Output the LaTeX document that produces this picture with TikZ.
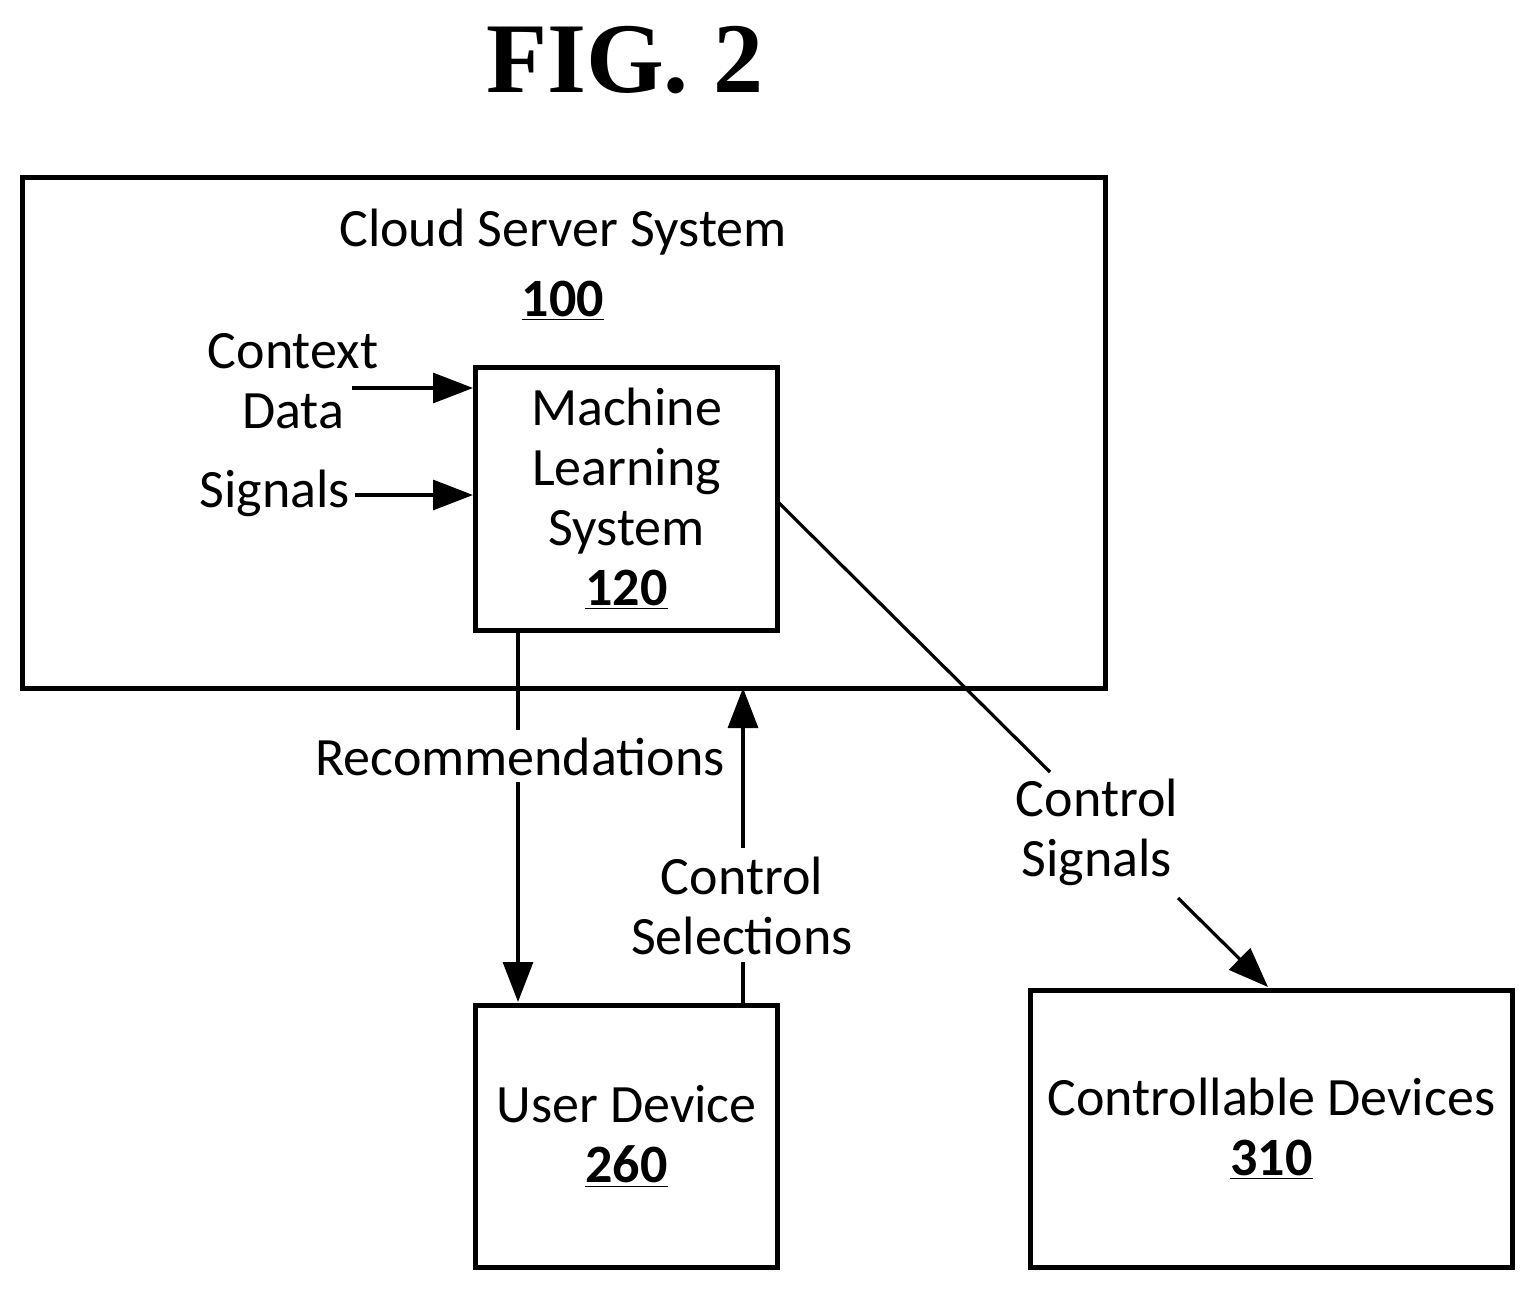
\documentclass[tikz,border=0pt]{standalone}
\usepackage{fontspec}
\setmainfont{Carlito}
\newfontfamily\titlefont{Liberation Serif}
\usetikzlibrary{arrows.meta}
\begin{document}
\begin{tikzpicture}[x=0.5pt,y=-0.5pt,
  box/.style={draw,line width=2.5pt},
  lbl/.style={font=\fontsize{27}{30}\selectfont,align=center,inner sep=0pt},
  ln/.style={line width=1.6pt},
  arr/.style={ln,-{Triangle[length=20pt,width=15pt]}}]
\useasboundingbox (0,0) rectangle (1533,1289);
\node[font=\titlefont\bfseries\fontsize{50}{50}\selectfont] (title) at (625,60) {FIG. 2};
\draw[box] (22,178) rectangle (1105,688);
\coordinate (outerbot) at (743,688);
\node[lbl] (cloud) at (563,265) {Cloud Server System\\[5pt]\underline{\textbf{100}}};
\node[box,minimum width=151pt,minimum height=131.5pt,anchor=north west] (ml) at (473,365) {};
\node[lbl] at (ml.center) {Machine\\Learning\\System\\\underline{\textbf{120}}};
\node[box,minimum width=151pt,minimum height=131pt,anchor=north west] (ud) at (473,1003) {};
\node[lbl] at (ud.center) {User Device\\\underline{\textbf{260}}};
\node[box,minimum width=241pt,minimum height=138.5pt,anchor=north west] (cd) at (1028,988) {};
\node[lbl] at (cd.center) {Controllable Devices\\\underline{\textbf{310}}};
\node[lbl] (ctx) at (293,381) {Context\\Data};
\node[lbl] (sig) at (275,493) {Signals};
\coordinate (ctxs) at (352,388); \coordinate (ctxe) at (473,388);
\coordinate (sigs) at (355,495); \coordinate (sige) at (473,495);
\draw[arr] (ctxs) -- (ctxe);
\draw[arr] (sigs) -- (sige);
\node[lbl] (rec) at (520,757) {Recommendations};
\coordinate (r1) at (518,628); \coordinate (r2) at (518,730);
\coordinate (r3) at (518,782); \coordinate (r4) at (518,1002);
\draw[ln] (r1) -- (r2);
\draw[arr] (r3) -- (r4);
\node[lbl] (cs) at (742,906) {Control\\Selections};
\coordinate (c1) at (743,1003); \coordinate (c2) at (743,962);
\coordinate (c3) at (743,848);
\draw[ln] (c1) -- (c2);
\draw[arr] (c3) -- (outerbot);
\node[lbl] (csig) at (1097,832) {Control\\Signals};
\coordinate (a1) at (778,502); \coordinate (a2) at (1050,772);
\coordinate (b1) at (1178,898); \coordinate (b2) at (1268,987);
\draw[ln] (a1) -- (a2);
\draw[arr] (b1) -- (b2);
\end{tikzpicture}
\end{document}
